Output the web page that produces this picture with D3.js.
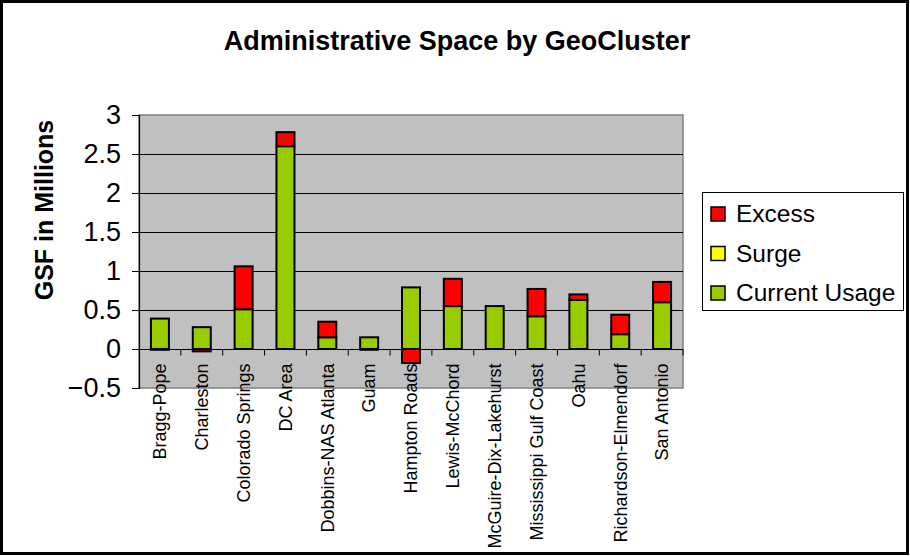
<!DOCTYPE html>
<html>
<head>
<meta charset="utf-8">
<script src="https://cdn.jsdelivr.net/npm/d3@7"></script>
<style>
    body { margin: 0; background: #fff; }
    text { font-family: "Liberation Sans", Arial, sans-serif; }
</style>
</head>
<body>
<div id="chart"></div>
<script>
const categories = ["Bragg-Pope", "Charleston", "Colorado Springs", "DC Area", "Dobbins-NAS Atlanta",
    "Guam", "Hampton Roads", "Lewis-McChord", "McGuire-Dix-Lakehurst", "Mississippi Gulf Coast",
    "Oahu", "Richardson-Elmendorf", "San Antonio"]
const currentUsage = [0.39, 0.28, 0.51, 2.60, 0.15, 0.15, 0.79, 0.55, 0.55, 0.42, 0.63, 0.19, 0.60]
const surge = [0, 0, 0, 0, 0, 0, 0, 0, 0, 0, 0, 0, 0]
const excess = [-0.01, -0.03, 0.55, 0.18, 0.20, -0.01, -0.18, 0.35, 0, 0.35, 0.07, 0.25, 0.26]
const yTicks = [-0.5, 0, 0.5, 1, 1.5, 2, 2.5, 3]
const seriesNames = ["Current Usage", "Surge", "Excess"]
const seriesColors = {"Current Usage": "#99cc00", "Surge": "#ffff00", "Excess": "#ff0000"}
const legendOrder = ["Excess", "Surge", "Current Usage"]

const width = 910
const height = 556
const plot = {left: 139, right: 683, top: 115, bottom: 388}

const svg = d3.select("#chart").append("svg")
    .attr("width", width)
    .attr("height", height)

// outer frame
svg.append("rect")
    .attr("x", 1.5).attr("y", 1.5)
    .attr("width", width - 4).attr("height", height - 4)
    .attr("fill", "#fff")
    .attr("stroke", "#000")
    .attr("stroke-width", 3)

svg.append("text")
    .attr("x", 457).attr("y", 50)
    .attr("text-anchor", "middle")
    .attr("font-size", 27)
    .attr("font-weight", "bold")
    .text("Administrative Space by GeoCluster")

const x = d3.scaleBand()
    .domain(categories)
    .range([plot.left, plot.right])
    .paddingInner(0.57)
    .paddingOuter(0.285)

const y = d3.scaleLinear()
    .domain([-0.5, 3])
    .range([plot.bottom, plot.top])

// plot background
svg.append("rect")
    .attr("x", plot.left).attr("y", plot.top)
    .attr("width", plot.right - plot.left).attr("height", plot.bottom - plot.top)
    .attr("fill", "#c0c0c0")
    .attr("stroke", "#808080")
    .attr("stroke-width", 1.5)

// gridlines
svg.append("g")
    .selectAll("line")
    .data(yTicks.filter(d => d > 0 && d < 3))
    .enter()
    .append("line")
    .attr("x1", plot.left).attr("x2", plot.right)
    .attr("y1", d => Math.round(y(d)) + 0.5).attr("y2", d => Math.round(y(d)) + 0.5)
    .attr("stroke", "#000")
    .attr("stroke-width", 1)

// y axis
const yAxis = svg.append("g")
    .attr("transform", "translate(" + plot.left + ",0)")
    .call(d3.axisLeft(y).tickValues(yTicks).tickSize(7).tickPadding(11).tickFormat(d3.format("")))
yAxis.select(".domain").attr("stroke", "#000").attr("stroke-width", 1.2)
yAxis.selectAll(".tick line").attr("stroke", "#000")
yAxis.selectAll(".tick text")
    .attr("font-size", 27)
    .attr("font-family", "Liberation Sans, Arial, sans-serif")
    .attr("fill", "#000")

svg.append("text")
    .attr("transform", "translate(53,210) rotate(-90)")
    .attr("text-anchor", "middle")
    .attr("font-size", 25)
    .attr("font-weight", "bold")
    .text("GSF in Millions")

// stacked bars
const rows = categories.map((c, i) => ({
    category: c,
    "Current Usage": currentUsage[i],
    "Surge": surge[i],
    "Excess": excess[i]
}))
const stacked = d3.stack()
    .keys(seriesNames)
    .offset(d3.stackOffsetDiverging)(rows)

svg.append("g")
    .selectAll("g")
    .data(stacked)
    .enter()
    .append("g")
    .attr("fill", d => seriesColors[d.key])
    .selectAll("rect")
    .data(d => d.filter(p => p[1] !== p[0]))
    .enter()
    .append("rect")
    .attr("x", d => x(d.data.category))
    .attr("width", x.bandwidth())
    .attr("y", d => y(Math.max(d[0], d[1])))
    .attr("height", d => Math.abs(y(d[0]) - y(d[1])))
    .attr("stroke", "#000")
    .attr("stroke-width", 2)

// x axis at zero with ticks on category boundaries
const zeroY = Math.round(y(0)) + 0.5
svg.append("line")
    .attr("x1", plot.left).attr("x2", plot.right)
    .attr("y1", zeroY).attr("y2", zeroY)
    .attr("stroke", "#000")
    .attr("stroke-width", 1.2)
svg.append("g")
    .selectAll("line")
    .data(d3.range(1, categories.length + 1))
    .enter()
    .append("line")
    .attr("x1", i => plot.left + i * x.step())
    .attr("x2", i => plot.left + i * x.step())
    .attr("y1", zeroY).attr("y2", zeroY + 6)
    .attr("stroke", "#000")

svg.append("g")
    .selectAll("text")
    .data(categories)
    .enter()
    .append("text")
    .attr("transform", d => "translate(" + (x(d) + x.bandwidth() / 2) + "," + (zeroY + 14) + ") rotate(-90)")
    .attr("text-anchor", "end")
    .attr("dy", "0.35em")
    .attr("font-size", 18)
    .text(d => d)

// legend
const legend = svg.append("g")
legend.append("rect")
    .attr("x", 702.5).attr("y", 192.5)
    .attr("width", 201).attr("height", 118)
    .attr("fill", "#fff")
    .attr("stroke", "#000")
    .attr("stroke-width", 1)
const item = legend.selectAll("g.item")
    .data(legendOrder)
    .enter()
    .append("g")
    .attr("class", "item")
    .attr("transform", (d, i) => "translate(711," + (207 + i * 39.5) + ")")
item.append("rect")
    .attr("width", 14).attr("height", 14)
    .attr("fill", d => seriesColors[d])
    .attr("stroke", "#000")
    .attr("stroke-width", 1.5)
item.append("text")
    .attr("x", 25).attr("y", 15)
    .attr("font-size", 24.5)
    .text(d => d)
</script>
</body>
</html>
